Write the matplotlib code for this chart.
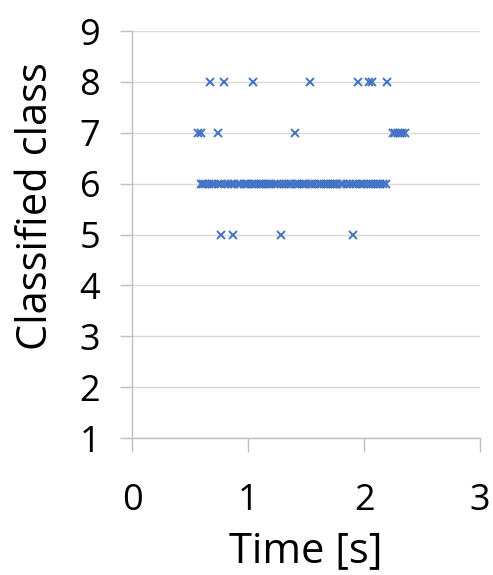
import matplotlib
matplotlib.use("Agg")
import matplotlib.pyplot as plt

plt.rcParams['font.family'] = ['Open Sans', 'DejaVu Sans']

# Time [s] of each classification, grouped by classified class
t_class8 = [0.67, 0.79, 1.04, 1.53, 1.95, 2.04, 2.07, 2.20]
t_class7 = [0.57, 0.59, 0.74, 1.40, 2.25, 2.27, 2.29, 2.31, 2.33, 2.35]
t_class6 = [0.59, 0.61, 0.63, 0.66, 0.69, 0.71, 0.74, 0.77, 0.80, 0.83,
            0.85, 0.88, 0.91, 0.93, 0.96, 0.98, 1.00, 1.03, 1.05, 1.07,
            1.09, 1.11, 1.13, 1.15, 1.18, 1.20, 1.22, 1.25, 1.28, 1.31,
            1.33, 1.35, 1.37, 1.40, 1.42, 1.44, 1.46, 1.48, 1.50, 1.53,
            1.55, 1.58, 1.61, 1.63, 1.65, 1.67, 1.69, 1.71, 1.73, 1.75,
            1.77, 1.80, 1.82, 1.85, 1.88, 1.90, 1.93, 1.96, 1.98, 2.00,
            2.03, 2.06, 2.08, 2.10, 2.12, 2.14, 2.16, 2.19]
t_class5 = [0.77, 0.87, 1.28, 1.90]

series = [(8, t_class8), (7, t_class7), (6, t_class6), (5, t_class5)]

fig = plt.figure(figsize=(4.93, 5.75), dpi=100)
ax = fig.add_axes([0.268, 0.238, 0.706, 0.708])

color = '#4472C4'
for cls, times in series:
    ax.plot(times, [cls] * len(times), linestyle='none', marker='x',
            color=color, markersize=6, markeredgewidth=1.4, zorder=3)

ax.set_xlim(0, 3)
ax.set_ylim(1, 9)
ax.set_xticks([0, 1, 2, 3])
ax.set_yticks(range(1, 10))

ax.grid(axis='y', color='#d9d9d9', linewidth=1)
ax.set_axisbelow(True)
for side in ['top', 'right']:
    ax.spines[side].set_visible(False)
for side in ['left', 'bottom']:
    ax.spines[side].set_color('#bfbfbf')
    ax.spines[side].set_linewidth(1)

ax.tick_params(axis='x', direction='out', length=10, width=1, color='#bfbfbf',
               labelsize=26, pad=22)
ax.tick_params(axis='y', direction='out', length=9, width=1, color='#bfbfbf',
               labelsize=26, pad=14)

ax.set_xlabel('Time [s]', fontsize=30, labelpad=8)
ax.set_ylabel('Classified class', fontsize=30)
ax.yaxis.set_label_coords(-0.215, 0.57)

fig.savefig('out.png', dpi=100)
